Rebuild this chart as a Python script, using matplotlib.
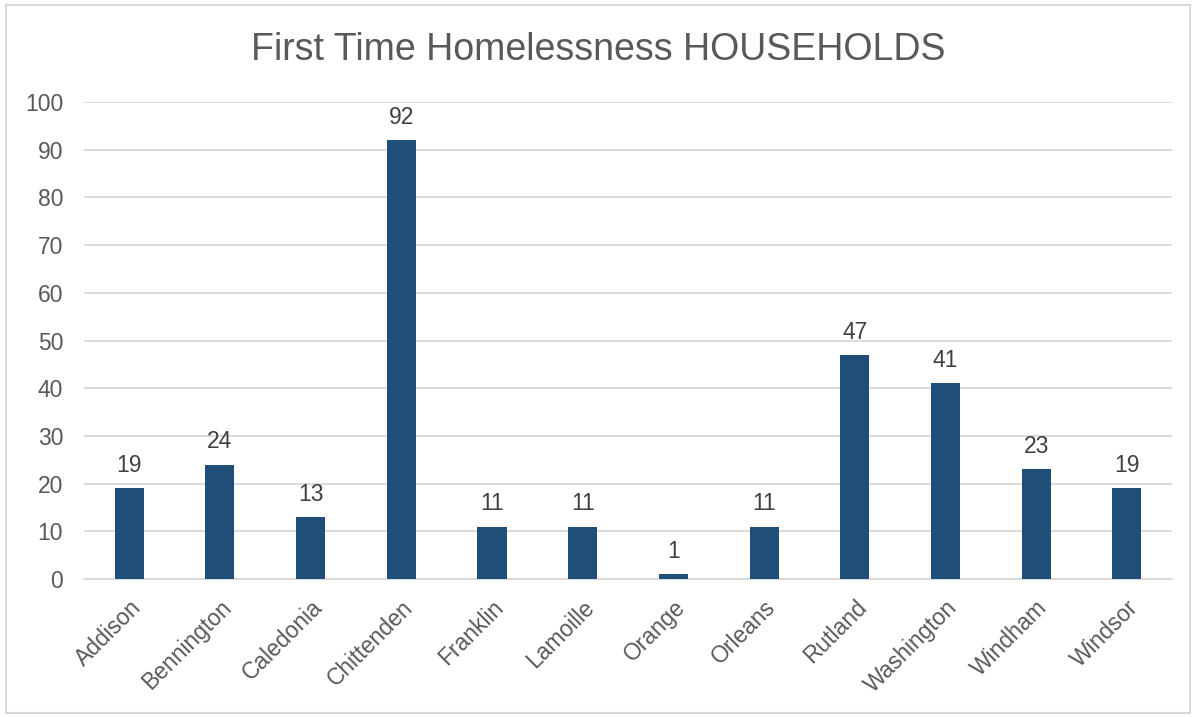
import matplotlib.pyplot as plt
import numpy as np
from matplotlib.patches import Rectangle

plt.rcParams['font.family'] = ['Liberation Sans', 'DejaVu Sans']

counties = ['Addison', 'Bennington', 'Caledonia', 'Chittenden', 'Franklin', 'Lamoille',
            'Orange', 'Orleans', 'Rutland', 'Washington', 'Windham', 'Windsor']
households = [19, 24, 13, 92, 11, 11, 1, 11, 47, 41, 23, 19]

text_grey = '#595959'
bar_blue = '#1F4E79'
grid_grey = '#D9D9D9'

fig = plt.figure(figsize=(11.96, 7.17), dpi=100)
ax = fig.add_axes([0.0702, 0.1925, 0.9098, 0.6652])

x = np.arange(len(counties))
bars = ax.bar(x, households, width=0.32, color=bar_blue, zorder=3)
for xi, v in zip(x, households):
    ax.annotate(str(v), (xi, v), xytext=(0, 8), textcoords='offset points',
                ha='center', va='bottom', fontsize=16.5, color='#404040')

ax.set_xlim(-0.5, len(counties) - 0.5)
ax.set_ylim(0, 100)
ax.set_yticks(np.arange(0, 101, 10))
ax.yaxis.grid(True, color=grid_grey, linewidth=1.3, zorder=0)
ax.set_axisbelow(True)
for s in ['top', 'right', 'left']:
    ax.spines[s].set_visible(False)
ax.spines['bottom'].set_color(grid_grey)
ax.spines['bottom'].set_linewidth(1.3)
ax.tick_params(axis='both', length=0, labelsize=16.5, colors=text_grey)
ax.tick_params(axis='y', pad=15)
ax.set_xticks(x)
ax.set_xticklabels(counties, rotation=45, ha='right', rotation_mode='anchor')
ax.tick_params(axis='x', pad=12)

fig.text(0.5, 0.93, 'First Time Homelessness HOUSEHOLDS', ha='center', va='center',
         fontsize=27, color=text_grey)

# outer chart border
fig.patches.append(Rectangle((0.005, 0.006), 0.99, 0.987, transform=fig.transFigure,
                             fill=False, edgecolor=grid_grey, linewidth=1.5))

fig.savefig('out.png', dpi=100)
